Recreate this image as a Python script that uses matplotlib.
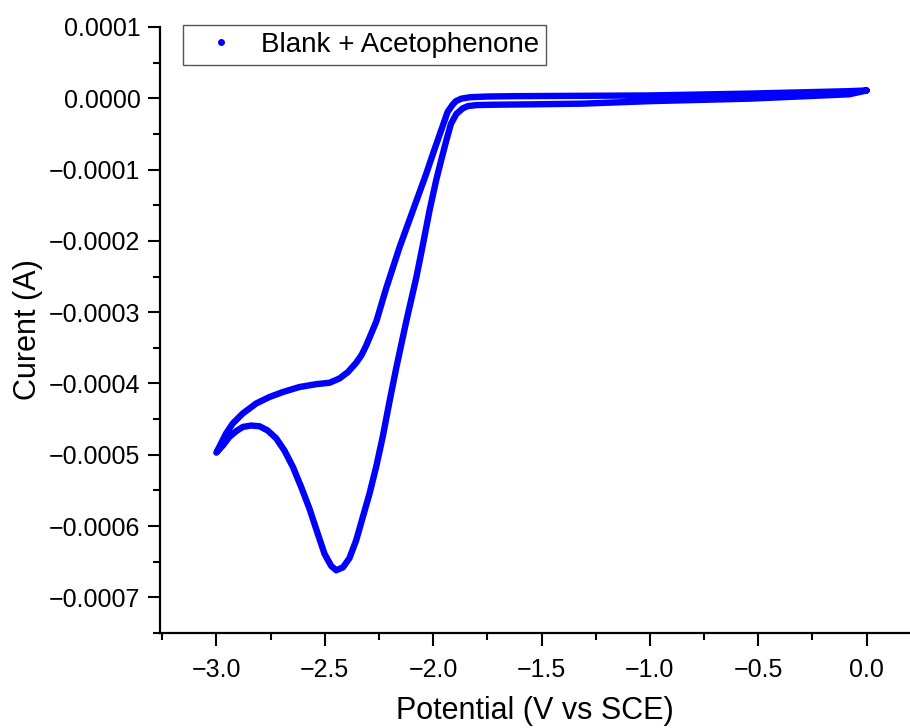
import matplotlib
matplotlib.use("Agg")
from matplotlib import pyplot as plt
from matplotlib.lines import Line2D
from matplotlib.ticker import MultipleLocator, FuncFormatter

# forward (cathodic) scan, 0 V -> -3 V ; current in units of 1e-4 A
e_fwd = [0.0, -0.08, -0.54, -1.0, -1.31, -1.55, -1.72, -1.80, -1.84, -1.863, -1.893,
         -1.918, -1.939, -1.963, -1.986, -2.017, -2.047, -2.078, -2.124, -2.170,
         -2.201, -2.232, -2.262, -2.293, -2.324, -2.355, -2.386, -2.416, -2.447,
         -2.470, -2.501, -2.532, -2.570, -2.609, -2.647, -2.686, -2.724, -2.763,
         -2.801, -2.840, -2.878, -2.909, -2.94, -2.970, -3.0]
i_fwd = [0.11, 0.056, -0.005, -0.04, -0.075, -0.085, -0.09, -0.095, -0.11, -0.14, -0.22,
         -0.36, -0.59, -0.87, -1.15, -1.58, -2.05, -2.52, -3.13, -3.78,
         -4.25, -4.74, -5.16, -5.54, -5.87, -6.20, -6.45, -6.58, -6.62,
         -6.56, -6.39, -6.11, -5.76, -5.45, -5.17, -4.94, -4.77, -4.66,
         -4.60, -4.59, -4.61, -4.67, -4.75, -4.87, -4.97]

# reverse scan, -3 V -> 0 V
e_rev = [-3.0, -2.978, -2.955, -2.924, -2.878, -2.816, -2.755, -2.693, -2.617, -2.540,
         -2.478, -2.432, -2.393, -2.355, -2.330, -2.309, -2.262, -2.216, -2.155, -2.094,
         -2.032, -2.001, -1.963, -1.933, -1.910, -1.895, -1.87, -1.83, -1.75, -1.62,
         -1.0, -0.54, -0.08, 0.0]
i_rev = [-4.97, -4.84, -4.70, -4.56, -4.42, -4.28, -4.19, -4.12, -4.05, -4.01,
         -3.99, -3.93, -3.84, -3.71, -3.60, -3.47, -3.13, -2.66, -2.09, -1.58,
         -1.06, -0.78, -0.45, -0.19, -0.09, -0.04, -0.005, 0.015, 0.025, 0.03,
         0.04, 0.066, 0.10, 0.11]

potential = e_fwd + e_rev
current = [v * 1e-4 for v in i_fwd + i_rev]

plt.rcParams['font.family'] = ['Liberation Sans', 'DejaVu Sans']

fig = plt.figure(figsize=(9.1, 7.28), dpi=100)
ax = fig.add_axes([160 / 910, 95 / 728, 750 / 910, 606 / 728])

ax.plot(potential, current, color='#0000ff', lw=4.6, solid_capstyle='round',
        solid_joinstyle='round')

ax.set_xlim(-3.26, 0.2)
ax.set_ylim(-0.00075, 0.0001)

ax.spines['top'].set_visible(False)
ax.spines['right'].set_visible(False)
for s in ['left', 'bottom']:
    ax.spines[s].set_linewidth(1.6)

ax.xaxis.set_major_locator(MultipleLocator(0.5))
ax.xaxis.set_minor_locator(MultipleLocator(0.25))
ax.yaxis.set_major_locator(MultipleLocator(0.0001))
ax.yaxis.set_minor_locator(MultipleLocator(0.00005))

def fmt_x(v, pos):
    v = round(v, 6) + 0.0
    return ('%.1f' % v).replace('-', '\u2212')

def fmt_y(v, pos):
    v = round(v, 9) + 0.0
    return ('%.4f' % v).replace('-', '\u2212')

ax.xaxis.set_major_formatter(FuncFormatter(fmt_x))
ax.yaxis.set_major_formatter(FuncFormatter(fmt_y))

ax.tick_params(which='major', direction='out', length=9, width=1.5, labelsize=18)
ax.tick_params(which='minor', direction='out', length=5, width=1.5)
ax.tick_params(axis='x', which='major', pad=9)
ax.tick_params(axis='y', which='major', pad=5)

ax.set_xlabel("Potential (V vs SCE)", fontsize=22, labelpad=10)
ax.set_ylabel("Curent (A)", fontsize=22, labelpad=4)

handle = Line2D([], [], color='#0000ff', marker='o', markersize=4, linestyle='none')
ax.legend([handle], ["Blank + Acetophenone"], loc='upper left',
          bbox_to_anchor=(183 / 910, 1 - 25 / 728), bbox_transform=fig.transFigure,
          borderaxespad=0, fontsize=20, fancybox=False, framealpha=1,
          edgecolor='#555555', borderpad=0.25, handlelength=2.2, handletextpad=0.35)
ax.get_legend().get_frame().set_linewidth(1.0)

fig.savefig("out.png", dpi=100)
